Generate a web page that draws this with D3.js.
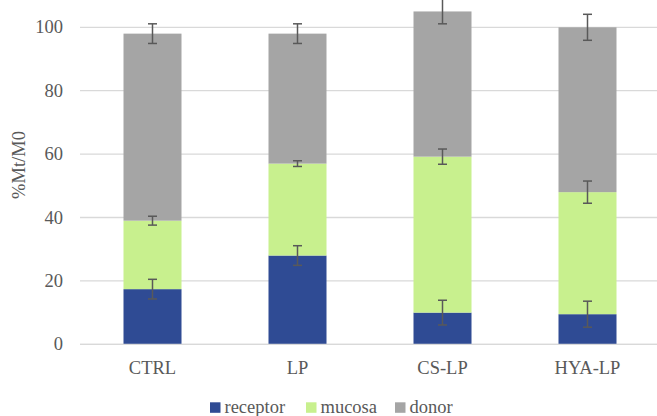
<!DOCTYPE html>
<html>
<head>
<meta charset="utf-8">
<script src="https://cdn.jsdelivr.net/npm/d3@7"></script>
<style>
  html, body { margin: 0; padding: 0; background: #fff; }
  svg { display: block; }
</style>
</head>
<body>
<svg id="chart" width="657" height="416" font-family="'Liberation Serif', Tinos, 'Times New Roman', Times, serif" fill="#595959"></svg>
<script>
// Permeation results per formulation, stacked: receptor, mucosa, donor (%Mt/M0)
const categories = ["CTRL", "LP", "CS-LP", "HYA-LP"];
const receptor = [17.4, 28.0, 10.0, 9.5];
const mucosa = [21.6, 29.0, 49.2, 38.5];
const donor = [59.0, 41.0, 45.8, 52.0];
const receptorErr = [3.1, 3.1, 3.9, 4.1];
const mucosaErr = [1.4, 0.9, 2.4, 3.5];
const donorErr = [3.1, 3.1, 3.9, 4.1];
const yTicks = [0, 20, 40, 60, 80, 100];
const seriesNames = ["receptor", "mucosa", "donor"];
const seriesColors = ["#2F4B94", "#C8F08E", "#A5A5A5"];

const svg = d3.select("#chart");
const plotLeft = 80, plotRight = 660, plotTop = 27.3, plotBottom = 344.3;
const fontSize = 18.5;

const x = d3.scaleBand().domain(categories).range([plotLeft, plotRight]).padding(0);
const y = d3.scaleLinear().domain([0, 100]).range([plotBottom, plotTop]);

// gridlines
svg.append("g")
  .selectAll("line")
  .data(yTicks)
  .join("line")
  .attr("x1", plotLeft).attr("x2", plotRight)
  .attr("y1", d => y(d)).attr("y2", d => y(d))
  .attr("stroke", "#D9D9D9").attr("stroke-width", 1.3);

// y tick labels
svg.append("g")
  .selectAll("text")
  .data(yTicks)
  .join("text")
  .attr("x", 63).attr("y", d => y(d))
  .attr("dy", "0.33em")
  .attr("text-anchor", "end")
  .attr("font-size", fontSize)
  .text(d => d);

// y axis title
svg.append("text")
  .attr("transform", "translate(25,165) rotate(-90)")
  .attr("text-anchor", "middle")
  .attr("font-size", fontSize)
  .text("%Mt/M0");

// stacked rows
const rows = categories.map((c, i) => ({
  cat: c, receptor: receptor[i], mucosa: mucosa[i], donor: donor[i]
}));
const errs = { receptor: receptorErr, mucosa: mucosaErr, donor: donorErr };
const stack = d3.stack().keys(seriesNames)(rows);

const bw = x.bandwidth() * 0.4;
const off = (x.bandwidth() - bw) / 2;

svg.append("g")
  .selectAll("g")
  .data(stack)
  .join("g")
  .attr("fill", (d, i) => seriesColors[i])
  .selectAll("rect")
  .data(d => d)
  .join("rect")
  .attr("x", d => x(d.data.cat) + off)
  .attr("width", bw)
  .attr("y", d => y(d[1]))
  .attr("height", d => y(d[0]) - y(d[1]));

// baseline axis
svg.append("line")
  .attr("x1", plotLeft).attr("x2", plotRight)
  .attr("y1", y(0)).attr("y2", y(0))
  .attr("stroke", "#D9D9D9").attr("stroke-width", 1.3);

// error bars at the top of each segment
const eg = svg.append("g").attr("stroke", "#595959").attr("stroke-width", 1.5).attr("fill", "none");
stack.forEach(layer => {
  const key = layer.key;
  layer.forEach((d, i) => {
    const cx = x(d.data.cat) + x.bandwidth() / 2;
    const e = errs[key][i];
    const y1 = y(d[1] + e), y2 = y(d[1] - e);
    eg.append("line").attr("x1", cx).attr("x2", cx).attr("y1", y1).attr("y2", y2);
    eg.append("line").attr("x1", cx - 4.5).attr("x2", cx + 4.5).attr("y1", y1).attr("y2", y1);
    eg.append("line").attr("x1", cx - 4.5).attr("x2", cx + 4.5).attr("y1", y2).attr("y2", y2);
  });
});

// category labels
svg.append("g")
  .selectAll("text")
  .data(categories)
  .join("text")
  .attr("x", d => x(d) + x.bandwidth() / 2)
  .attr("y", 374)
  .attr("text-anchor", "middle")
  .attr("font-size", fontSize)
  .text(d => d);

// legend
const legendX = [210, 306, 395];
const lg = svg.append("g");
seriesNames.forEach((name, i) => {
  lg.append("rect")
    .attr("x", legendX[i]).attr("y", 402.3)
    .attr("width", 10.5).attr("height", 10.5)
    .attr("fill", seriesColors[i]);
  lg.append("text")
    .attr("x", legendX[i] + 14.5).attr("y", 413.3)
    .attr("font-size", fontSize)
    .text(name);
});
</script>
</body>
</html>
